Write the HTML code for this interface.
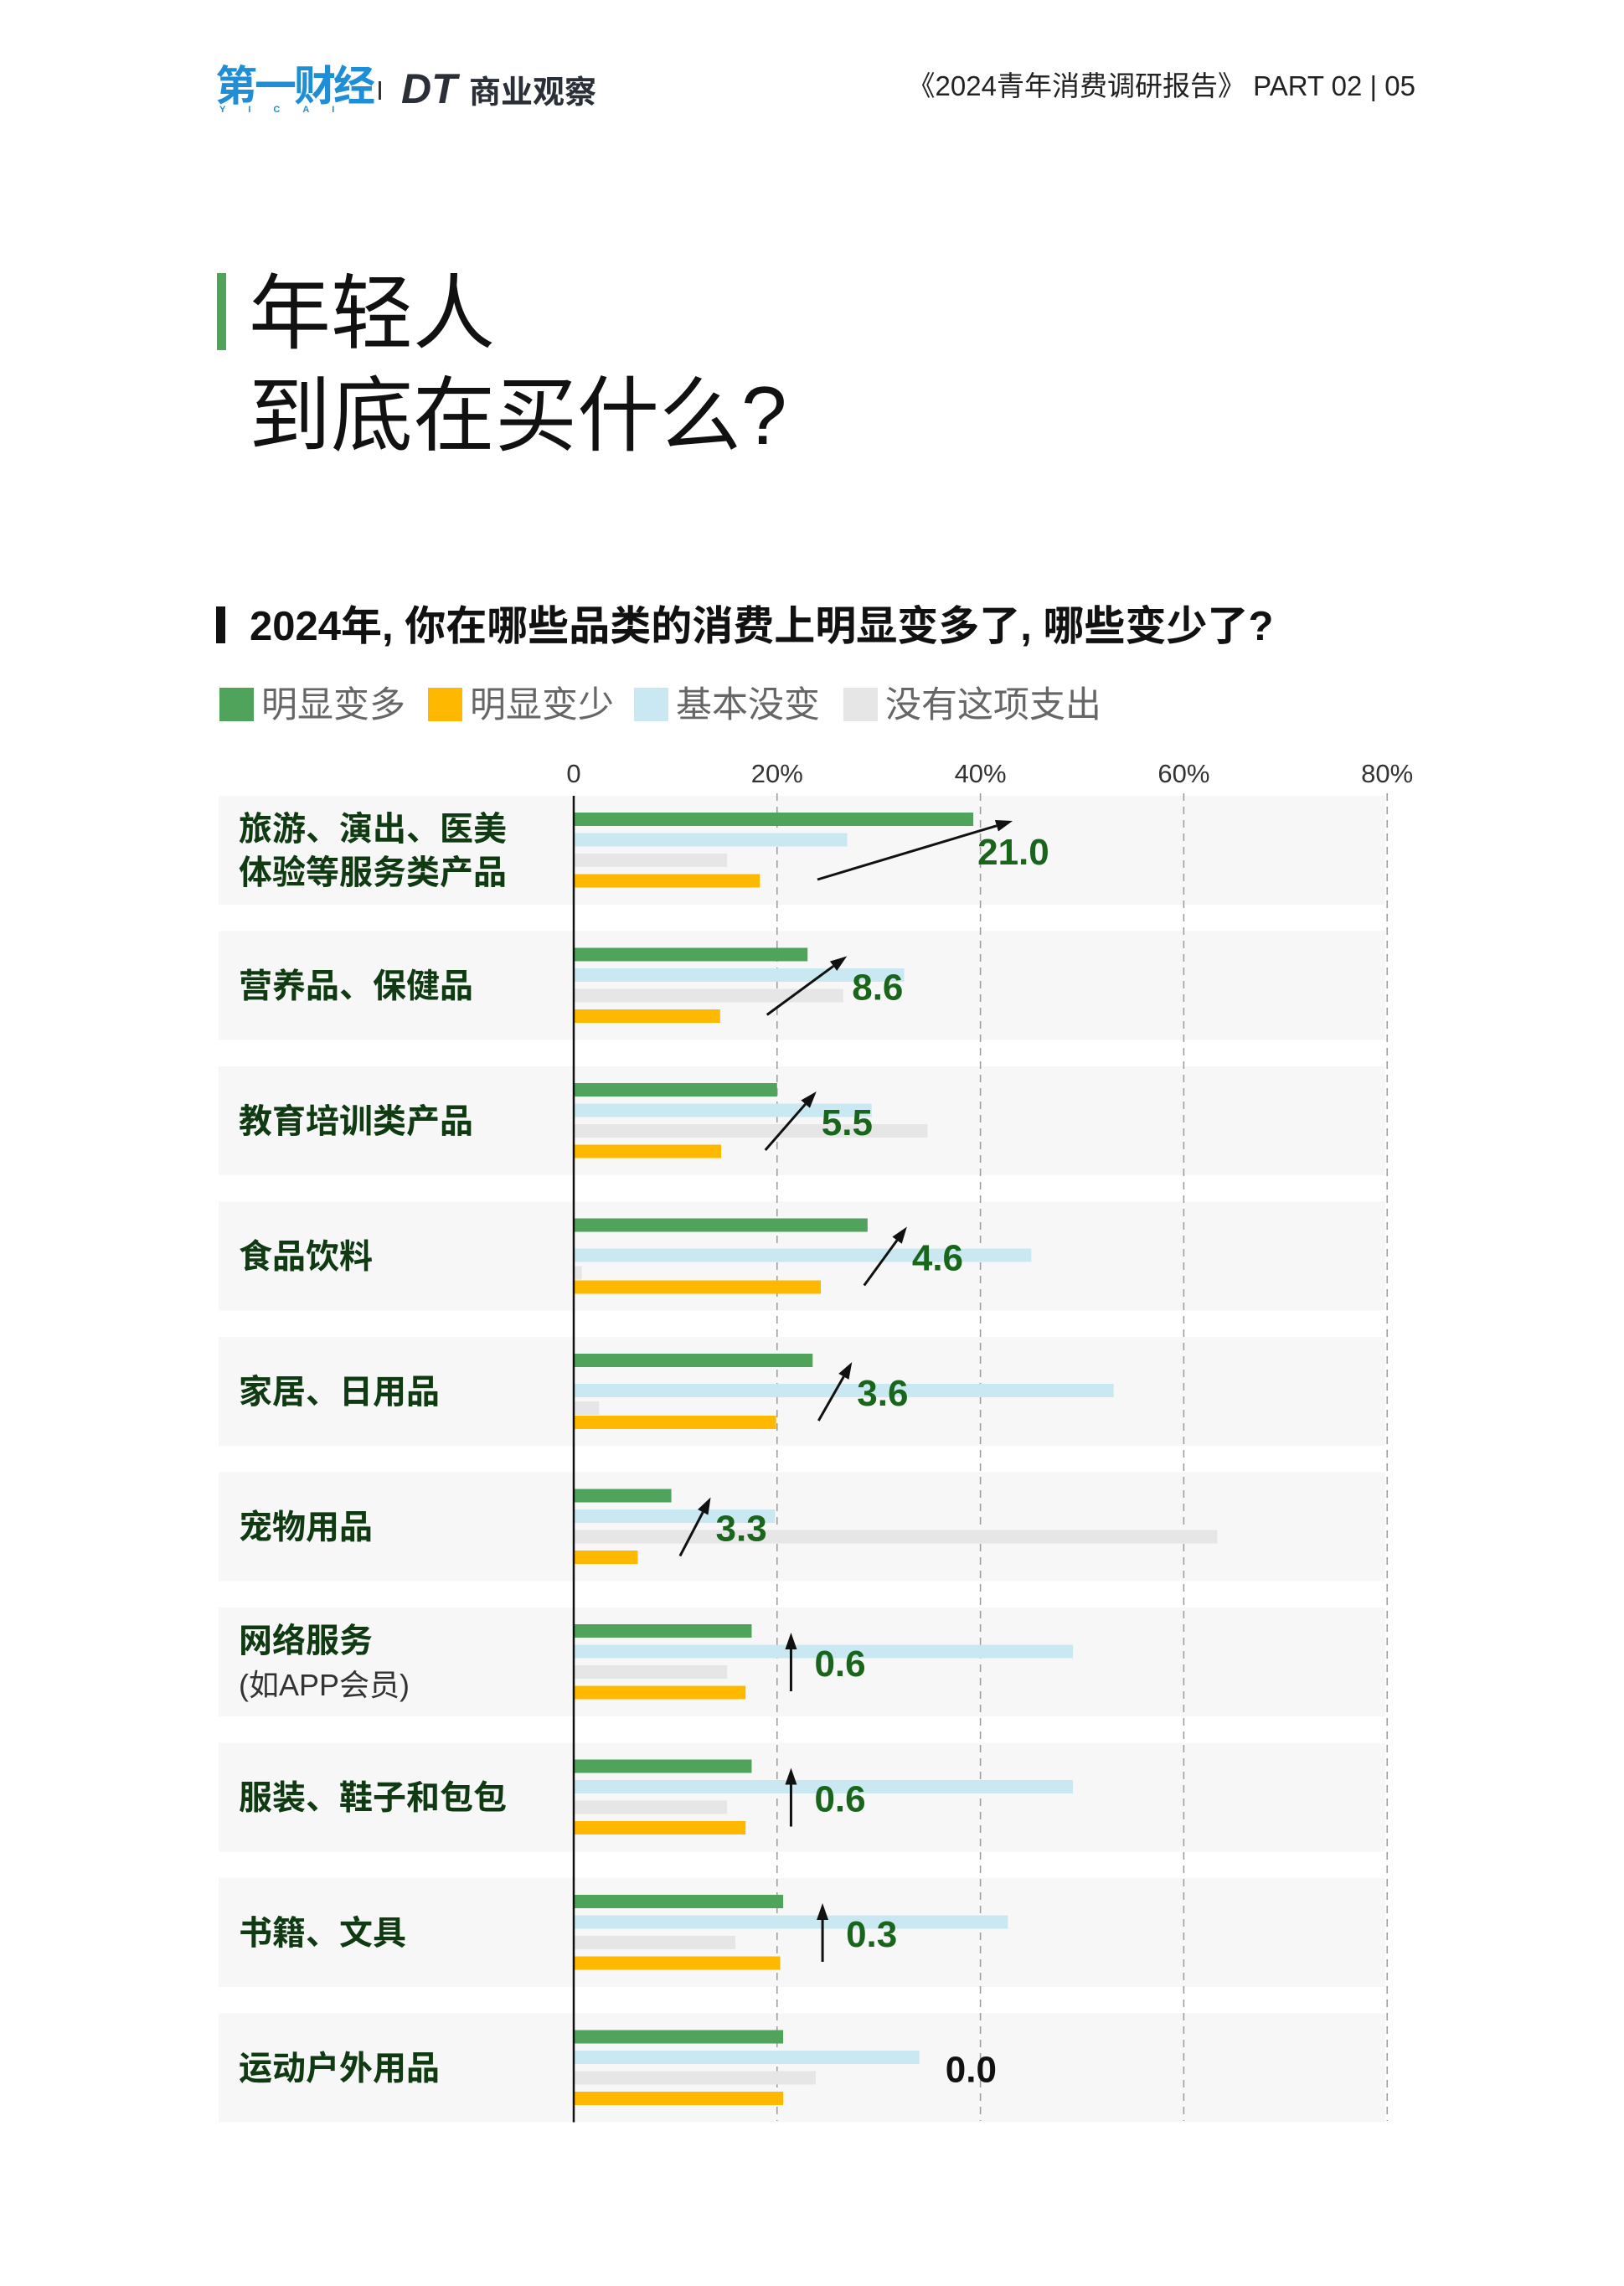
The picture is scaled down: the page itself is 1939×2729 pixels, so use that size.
<!DOCTYPE html>
<html><head><meta charset="utf-8">
<style>
html,body{margin:0;padding:0;background:#fff;}
body{width:1939px;height:2724px;overflow:hidden;}
svg text{font-family:"Liberation Sans","Noto Sans CJK SC",sans-serif;}
</style></head>
<body>
<svg id="page" width="1939" height="2724" viewBox="0 0 1939 2724" xmlns="http://www.w3.org/2000/svg">
  <g>
    <text x="257" y="120" font-size="50" font-weight="bold" fill="#1e8fd6" letter-spacing="-3">第一财经</text>
    <text x="262" y="134" font-size="11" font-weight="bold" fill="#1e8fd6" letter-spacing="27">YICAI</text>
    <rect x="452" y="97" width="3" height="22" fill="#333"/>
    <text x="479" y="123" font-size="50" font-weight="bold" font-style="italic" fill="#2a2f38">DT</text>
    <text x="560" y="123" font-size="38" font-weight="bold" fill="#2a2f38">商业观察</text>
    <text x="1690" y="114" font-size="33" fill="#222" text-anchor="end">《2024青年消费调研报告》  PART 02  |  05</text>
  </g>
  <g>
    <rect x="259" y="326" width="11" height="92" fill="#4fa35a"/>
    <text x="297" y="408" font-size="98" fill="#111">年轻人</text>
    <text x="297" y="530" font-size="98" fill="#111">到底在买什么?</text>
  </g>
  <g>
    <rect x="258" y="724" width="11" height="44" fill="#111"/>
    <text x="298" y="764" font-size="49" font-weight="bold" fill="#111">2024年, 你在哪些品类的消费上明显变多了, 哪些变少了?</text>
  </g>
  <g id="legend"></g>
  <g id="chart"></g>
</svg>
<script>
const categories = [["旅游、演出、医美","体验等服务类产品"],["营养品、保健品"],["教育培训类产品"],["食品饮料"],["家居、日用品"],["宠物用品"],["网络服务","(如APP会员)"],["服装、鞋子和包包"],["书籍、文具"],["运动户外用品"]];
const moreValues = [39.3,23.0,20.0,28.9,23.5,9.6,17.5,17.5,20.6,20.6];
const sameValues = [26.9,32.5,29.3,45.0,53.1,19.8,49.1,49.1,42.7,34.0];
const noneValues = [15.1,26.5,34.8,0.8,2.5,63.3,15.1,15.1,15.9,23.8];
const lessValues = [18.3,14.4,14.5,24.3,19.9,6.3,16.9,16.9,20.3,20.6];
const diffLabels = ["21.0","8.6","5.5","4.6","3.6","3.3","0.6","0.6","0.3","0.0"];
const tickValues = [0,20,40,60,80];
const tickLabels = ["0","20%","40%","60%","80%"];
const legendLabels = ["明显变多","明显变少","基本没变","没有这项支出"];

const NS="http://www.w3.org/2000/svg";
const X0=685, PX=12.14, ROW0=950, PITCH=161.5, ROWH=130, BARH=16;
const COLORS={more:"#4fa35a",less:"#ffb800",same:"#c9e8f1",none:"#e6e6e6"};
function xs(v){return X0+v*PX;}
function mk(tag,attrs,parent){const e=document.createElementNS(NS,tag);for(const k in attrs)e.setAttribute(k,attrs[k]);parent.appendChild(e);return e;}
const chart=document.getElementById('chart');
const legend=document.getElementById('legend');

const legendColors=[COLORS.more,COLORS.less,COLORS.same,COLORS.none];
const legendX=[262,511,757,1007];
legendLabels.forEach((t,i)=>{
  const r=mk('rect',{x:legendX[i],y:821,width:41,height:40,fill:legendColors[i]},legend);
  
  
  const tx=mk('text',{x:legendX[i]+50,y:856,'font-size':43,fill:'#666'},legend);
  tx.textContent=t;
  
  
});

categories.forEach((c,i)=>{
  const r=mk('rect',{x:261,y:ROW0+i*PITCH,width:1393,height:ROWH,fill:'#f7f7f7'},chart);
  
  
});
tickValues.forEach((v,i)=>{
  const t=mk('text',{x:xs(v),y:934,'font-size':31,fill:'#333','text-anchor':'middle'},chart);
  t.textContent=tickLabels[i];
  
  
  if(v>0){
    const l=mk('line',{x1:xs(v),x2:xs(v),y1:947,y2:2532,stroke:'#9a9a9a','stroke-width':1.5,'stroke-dasharray':'9,7'},chart);
    
    
  }
});
const series=[["more",moreValues],["same",sameValues],["none",noneValues],["less",lessValues]];
const normalOff=[20,44.5,69,93.5], altOff=[20,56,77,94];
categories.forEach((c,i)=>{
  const top=ROW0+i*PITCH;
  const off=(i===3||i===4)?altOff:normalOff;
  series.forEach(([key,vals],s)=>{
    const b=mk('rect',{x:X0,y:top+off[s],width:Math.max(0,xs(vals[i])-X0),height:BARH,fill:COLORS[key]},chart);
    
    
  });
  c.forEach((ln,j)=>{
    const sub=j===1&&i===6;
    const cy=c.length===1?top+ROWH/2+14:top+ROWH/2+14+(j===0?-26:26);
    const t=mk('text',{x:285,y:cy,'font-size':sub?36:40,'font-weight':sub?'normal':'bold',fill:sub?'#333':'#0f3a12'},chart);
    t.textContent=ln;
    
    
  });
  const diff=moreValues[i]-lessValues[i];
  const tipX=xs(moreValues[i])+47, tipY=top+30, baseY=top+100;
  if(Math.abs(diff)>0.05){
    const baseX=diff<1?tipX:tipX-diff*11.1;
    const ang=Math.atan2(tipY-baseY,tipX-baseX);
    const hl=20,hw=7;
    const bx=tipX-hl*Math.cos(ang), by=tipY-hl*Math.sin(ang);
    const l=mk('line',{x1:baseX,y1:baseY,x2:bx,y2:by,stroke:'#111','stroke-width':3},chart);
    
    
    const px=-Math.sin(ang)*hw, py=Math.cos(ang)*hw;
    const h=mk('polygon',{points:`${tipX},${tipY} ${bx+px},${by+py} ${bx-px},${by-py}`,fill:'#111'},chart);
    
    
    const lx=diff>15?tipX-42:(diff<1?tipX+28:tipX+6);
    const t=mk('text',{x:lx,y:top+82,'font-size':44,'font-weight':'bold',fill:'#1a651c'},chart);
    t.textContent=diffLabels[i];
    
    
  } else {
    const t=mk('text',{x:xs(sameValues[i])+31,y:top+82,'font-size':44,'font-weight':'bold',fill:'#111'},chart);
    t.textContent=diffLabels[i];
    
    
  }
});
const ax=mk('line',{x1:X0,x2:X0,y1:ROW0,y2:ROW0+9*PITCH+ROWH,stroke:'#111','stroke-width':2.5},chart);


</script>
</body></html>
